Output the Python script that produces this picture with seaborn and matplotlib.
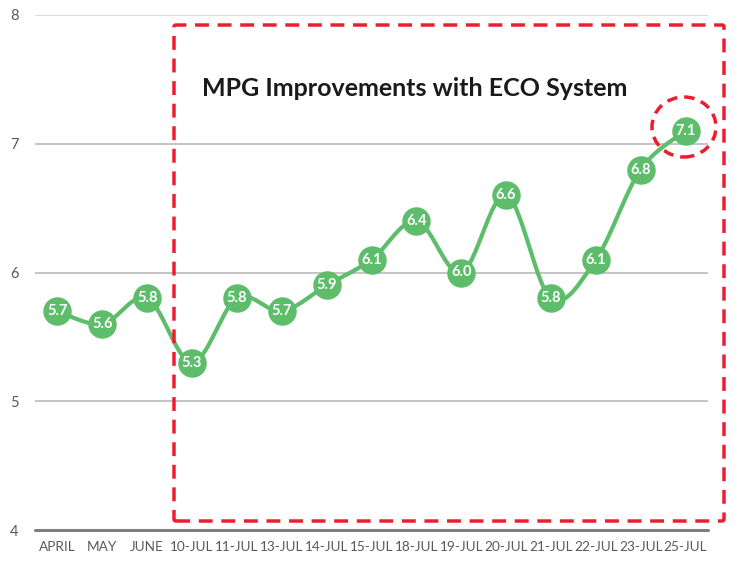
import numpy as np
import pandas as pd
import matplotlib
matplotlib.use("Agg")
import matplotlib.pyplot as plt
import seaborn as sns
from matplotlib.patches import FancyBboxPatch, Ellipse

categories = ["APRIL", "MAY", "JUNE", "10-JUL", "11-JUL", "13-JUL", "14-JUL", "15-JUL",
              "18-JUL", "19-JUL", "20-JUL", "21-JUL", "22-JUL", "23-JUL", "25-JUL"]
mpg = [5.7, 5.6, 5.8, 5.3, 5.8, 5.7, 5.9, 6.1, 6.4, 6.0, 6.6, 5.8, 6.1, 6.8, 7.1]
yticks = [4, 5, 6, 7, 8]
title = "MPG Improvements with ECO System"

sns.set_style("white")
plt.rcParams['font.family'] = ['Lato', 'DejaVu Sans']

fig = plt.figure(figsize=(7.35, 5.61), dpi=100)
ax = fig.add_axes([35/735, 1-530/561, (708-35)/735, (530-15)/561])

green = "#5dbd6b"
x = np.arange(len(mpg))
y = np.array(mpg)

# smooth rendering of the line (Catmull-Rom style, like a spreadsheet smoothed line)
def smooth(xp, yp, n=30):
    xs, ys = [], []
    P = np.column_stack([xp, yp]).astype(float)
    P = np.vstack([P[0], P, P[-1]])
    for i in range(1, len(P) - 2):
        p0, p1, p2, p3 = P[i-1], P[i], P[i+1], P[i+2]
        t = np.linspace(0, 1, n)[:, None]
        c1 = p1 + (p2 - p0) / 6
        c2 = p2 - (p3 - p1) / 6
        pts = ((1-t)**3)*p1 + 3*((1-t)**2)*t*c1 + 3*(1-t)*t**2*c2 + t**3*p2
        xs.extend(pts[:, 0]); ys.extend(pts[:, 1])
    return np.array(xs), np.array(ys)

sx, sy = smooth(x, y)
df_line = pd.DataFrame({"x": sx, "y": sy})
sns.lineplot(data=df_line, x="x", y="y", ax=ax, color=green, linewidth=3, sort=False,
             estimator=None, zorder=3)
df_pts = pd.DataFrame({"x": x, "y": y})
sns.scatterplot(data=df_pts, x="x", y="y", ax=ax, color=green, s=20.5**2, linewidth=0,
                zorder=4)
for xi, yi in zip(x, y):
    ax.text(xi, yi, f"{yi:.1f}", ha="center", va="center", color="white",
            fontsize=10.5, fontweight="bold", zorder=5)

ax.set_xlim(-0.5, len(mpg) - 0.5)
ax.set_ylim(4, 8)
ax.set_xticks(x)
ax.set_xticklabels(categories)
ax.set_yticks(yticks)
ax.set_xlabel("")
ax.set_ylabel("")
for yt in yticks[1:]:
    ax.axhline(yt, color="#d9d9d9" if yt == 8 else "#bfbfbf", linewidth=1.3, zorder=1)
ax.axhline(4, color="#808080", linewidth=2.2, zorder=2, clip_on=False)
for s in ax.spines.values():
    s.set_visible(False)
ax.tick_params(axis="both", length=0, colors="#595959")
ax.tick_params(axis="x", pad=8, labelsize=9.8)
ax.tick_params(axis="y", pad=12, labelsize=10.5)

# annotations
rect = FancyBboxPatch((174/735, 1-521/561), (724-174)/735, (521-25)/561,
                      boxstyle="round,pad=0,rounding_size=0.003",
                      transform=fig.transFigure, fill=False, edgecolor="#ee1c2e",
                      linewidth=2.5, linestyle=(0, (4, 2.5)), zorder=6)
fig.patches.append(rect)
ell = Ellipse((684/735, 1-127/561), 64/735, 60/561, transform=fig.transFigure,
              fill=False, edgecolor="#ee1c2e", linewidth=2.5, linestyle=(0, (3, 2)), zorder=6)
fig.patches.append(ell)
fig.text(415/735, 1-88/561, title, ha="center", va="center", fontsize=18,
         fontweight="bold", color="#1a1a1a")

fig.savefig("out.png", dpi=100)
